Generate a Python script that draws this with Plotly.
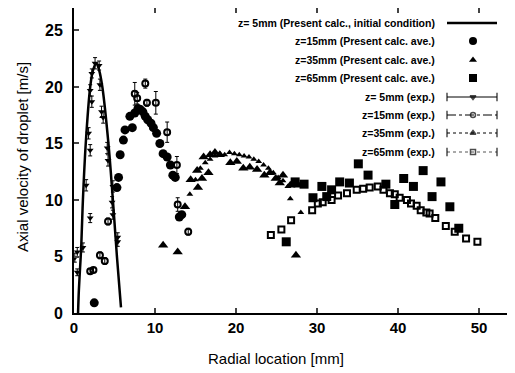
import plotly.graph_objects as go

# ---------------- data ----------------
calc5_x = [0.5, 0.6, 0.75, 0.9, 1.1, 1.45, 2.0, 2.35, 2.75, 3.1, 3.5, 4.25, 4.8, 5.3, 5.8]
calc5_y = [0, 2, 4, 6, 10, 15, 20, 21.5, 22.1, 21.5, 20, 15, 10, 5, 0.5]

calc15_x = [2.5, 5.3, 5.5, 5.7, 6.1, 6.3, 6.9, 7.2, 7.5, 7.9, 8.2, 8.5, 8.8, 9.1, 9.5, 9.8,
            10.2, 10.6, 11.0, 11.5, 11.9, 12.2, 12.5, 13.0, 13.3]
calc15_y = [0.9, 11.1, 12.0, 14.0, 15.3, 16.2, 17.4, 16.4, 17.7, 18.1, 18.0, 17.8, 17.4, 17.1,
            16.8, 16.4, 15.9, 15.0, 14.1, 13.8, 13.1, 12.2, 12.0, 8.5, 8.7]

calc35_x = [11.0, 12.8, 13.7, 14.4, 15.2, 15.3, 15.8, 16.0, 16.6, 16.8, 17.4, 18.0, 19.3, 20.1,
            20.9, 21.7, 22.6, 23.5, 24.2, 24.9, 25.4, 25.8, 26.7, 27.4, 27.7]
calc35_y = [6.0, 5.4, 9.4, 11.8, 12.6, 11.1, 11.9, 13.8, 12.4, 14.0, 14.2, 14.0, 13.3, 13.4,
            12.8, 12.9, 12.7, 12.2, 12.4, 11.9, 11.5, 12.2, 11.3, 5.1, 11.3]

calc65_x = [26.2, 27.3, 28.4, 29.5, 30.6, 31.2, 31.8, 32.8, 34.0, 35.1, 36.3, 38.5, 39.6, 40.7,
            41.9, 43.1, 44.2, 45.3, 46.4, 47.5]
calc65_y = [6.3, 11.6, 11.4, 10.2, 11.2, 10.3, 10.9, 11.6, 11.5, 13.2, 12.2, 11.4, 9.6, 11.9,
            11.2, 12.6, 10.3, 11.6, 9.4, 7.5]

exp5_x = [0.1, 0.4, 0.4, 1.1, 1.5, 1.8, 2.0, 2.0, 2.0, 2.2, 2.2, 2.6, 3.1, 3.2, 3.4, 3.6,
          4.1, 4.2, 4.7, 4.8, 4.8, 5.4, 5.4]
exp5_y = [4.9, 3.6, 5.4, 5.8, 11.3, 15.9, 19.7, 14.4, 8.4, 21.2, 18.7, 22.1, 21.9, 20.2, 17.8,
          17.3, 14.6, 13.5, 9.8, 11.2, 8.7, 6.7, 6.3]
exp5_err = [0.4, 0.3, 0.4, 0.4, 0.5, 0.5, 0.5, 0.5, 0.4, 0.4, 0.5, 0.5, 0.4, 0.5, 0.5, 0.5,
            0.5, 0.5, 0.5, 0.5, 0.4, 0.4, 0.4]

exp15_x = [2.0, 2.4, 3.2, 3.8, 4.2, 7.5, 7.8, 8.8, 9.0, 10.1, 11.5, 12.7, 12.8, 14.1]
exp15_y = [3.7, 3.8, 5.1, 4.6, 8.1, 19.4, 19.0, 20.3, 18.6, 18.6, 16.0, 13.1, 9.6, 7.2]
exp15_err = [0.2, 0.2, 0.3, 0.3, 0.3, 1.0, 0.5, 0.4, 0.3, 1.0, 0.9, 0.75, 0.6, 0.3]

exp35_x = [14.3, 15.0, 15.6, 16.2, 16.8, 17.4, 18.0, 18.6, 19.2, 19.8, 20.4, 21.0, 21.6, 22.2,
           22.8, 23.4, 24.0, 24.6, 25.2, 25.8, 26.4, 26.7, 28.0]
exp35_y = [10.5, 11.8, 12.8, 13.3, 13.6, 13.9, 14.1, 14.0, 14.2, 14.1, 14.0, 13.9, 13.8, 13.6,
           13.4, 13.1, 12.8, 12.4, 12.0, 11.7, 11.2, 10.1, 8.9]

exp65_x = [24.3, 25.6, 26.8, 29.4, 30.1, 30.7, 31.8, 32.6, 33.7, 34.9, 35.7, 36.5, 37.5, 38.2,
           39.0, 39.6, 40.2, 41.1, 41.6, 42.3, 42.8, 43.5, 43.9, 44.6, 45.9, 47.0, 48.4, 49.8]
exp65_y = [6.9, 7.4, 8.2, 9.1, 9.7, 9.8, 10.0, 10.4, 10.6, 10.9, 11.0, 11.1, 11.2, 10.9, 10.6,
           10.5, 10.2, 10.0, 9.7, 9.5, 9.1, 8.9, 8.8, 8.4, 7.7, 7.2, 6.6, 6.3]

legend_labels = [
    "z= 5mm (Present calc., initial condition)",
    "z=15mm (Present calc. ave.)",
    "z=35mm (Present calc. ave.)",
    "z=65mm (Present calc. ave.)",
    "z= 5mm (exp.)",
    "z=15mm (exp.)",
    "z=35mm (exp.)",
    "z=65mm (exp.)",
]

x_ticks = [0, 10, 20, 30, 40, 50]
y_ticks = [0, 5, 10, 15, 20, 25]
x_title = "Radial location [mm]"
y_title = "Axial velocity of droplet [m/s]"

# ---------------- figure ----------------
FONT = "Liberation Sans, Arial, sans-serif"
fig = go.Figure()

fig.add_trace(go.Scatter(x=calc5_x, y=calc5_y, mode="lines", line=dict(color="black", width=2.5),
                         line_shape="spline", showlegend=False))
fig.add_trace(go.Scatter(x=exp5_x, y=exp5_y, mode="markers",
                         marker=dict(symbol="triangle-down", size=6, color="black"),
                         error_y=dict(type="data", array=exp5_err, color="black", thickness=1, width=2),
                         showlegend=False))
fig.add_trace(go.Scatter(x=calc15_x, y=calc15_y, mode="markers",
                         marker=dict(symbol="circle", size=9, color="black"), showlegend=False))
fig.add_trace(go.Scatter(x=exp15_x, y=exp15_y, mode="markers",
                         marker=dict(symbol="circle-open", size=6, color="black", line=dict(width=2)),
                         error_y=dict(type="data", array=exp15_err, color="black", thickness=1, width=2),
                         showlegend=False))
fig.add_trace(go.Scatter(x=calc35_x, y=calc35_y, mode="markers",
                         marker=dict(symbol="triangle-up", size=9, color="black"), showlegend=False))
fig.add_trace(go.Scatter(x=exp35_x, y=exp35_y, mode="markers",
                         marker=dict(symbol="triangle-up", size=6, color="black"), showlegend=False))
fig.add_trace(go.Scatter(x=calc65_x, y=calc65_y, mode="markers",
                         marker=dict(symbol="square", size=9, color="black"), showlegend=False))
fig.add_trace(go.Scatter(x=exp65_x, y=exp65_y, mode="markers",
                         marker=dict(symbol="square-open", size=6, color="black", line=dict(width=2)),
                         showlegend=False))

# ---------------- manual legend (text right, sample to the right) ----------------
# page pixel coordinates (page has an 8px body margin)
L_PX, T_PX, W_PX, H_PX = 74, 8, 441, 305
def fx(px):
    return (px - L_PX) / W_PX
def fy(py):
    return (T_PX + H_PX - py) / H_PX

row_py = [23, 41, 60, 78, 97, 115, 133, 152]
x0, xm, x1 = fx(447), fx(473), fx(497)
samples = [
    dict(line=None, sym="circle", size=0),
    dict(line=None, sym="circle", size=8),
    dict(line=None, sym="triangle-up", size=7),
    dict(line=None, sym="square", size=8),
    dict(line="solid", sym="triangle-down", size=5, color="black"),
    dict(line="dashdot", sym="circle-open", size=5, color="black"),
    dict(line="dot", sym="triangle-up", size=5, color="black"),
    dict(line="dot", sym="square-open", size=5, color="#555555"),
]
for i, (lab, py) in enumerate(zip(legend_labels, row_py)):
    fig.add_annotation(x=fx(437), y=fy(py), xref="paper", yref="paper", text="<b>" + lab + "</b>",
                       showarrow=False, xanchor="right", yanchor="middle",
                       font=dict(family=FONT, size=10.5, color="black"))
    s = samples[i]
    yy = fy(py)
    if i == 0:
        fig.add_trace(go.Scatter(x=[x0, x1], y=[yy, yy], xaxis="x2", yaxis="y2", mode="lines",
                                 line=dict(color="black", width=2.5), showlegend=False))
    elif s["line"] is None:
        fig.add_trace(go.Scatter(x=[xm], y=[yy], xaxis="x2", yaxis="y2", mode="markers",
                                 marker=dict(symbol=s["sym"], size=s["size"], color="black"),
                                 showlegend=False))
    else:
        fig.add_trace(go.Scatter(x=[x0, xm, x1], y=[yy, yy, yy], xaxis="x2", yaxis="y2",
                                 mode="lines+markers",
                                 line=dict(color=s["color"], width=1, dash=s["line"]),
                                 marker=dict(symbol=["line-ns-open", s["sym"], "line-ns-open"],
                                             size=[6, s["size"], 6], color="black",
                                             line=dict(width=1.5, color="black")),
                                 showlegend=False))

# axis titles as annotations (reference's x title is not centred on the clipped plot)
fig.add_annotation(x=fx(276), y=fy(358), xref="paper", yref="paper", text=x_title,
                   showarrow=False, xanchor="center", yanchor="middle",
                   font=dict(family=FONT, size=15, color="black"))
fig.add_annotation(x=fx(22), y=fy(157), xref="paper", yref="paper", text=y_title,
                   showarrow=False, xanchor="center", yanchor="middle", textangle=-90,
                   font=dict(family=FONT, size=15, color="black"))

fig.update_layout(
    width=507, height=365,
    margin=dict(l=66, r=0, t=0, b=60),
    paper_bgcolor="white", plot_bgcolor="white",
    font=dict(family=FONT, color="black"),
    xaxis=dict(range=[0, 54.44], tickvals=x_ticks, ticks="inside", ticklen=5, tickwidth=1.5,
               showline=True, linewidth=2, linecolor="black", mirror="ticks", showgrid=False,
               zeroline=False, automargin=False, tickfont=dict(family=FONT, size=15, weight="bold")),
    yaxis=dict(range=[0, 26.99], tickvals=y_ticks, ticks="inside", ticklen=5, tickwidth=1.5,
               showline=True, linewidth=2, linecolor="black", mirror=False, showgrid=False,
               zeroline=False, automargin=False, ticklabelstandoff=6,
               tickfont=dict(family=FONT, size=16, weight="bold")),
    xaxis2=dict(overlaying="x", range=[0, 1], visible=False, fixedrange=True, automargin=False),
    yaxis2=dict(overlaying="y", range=[0, 1], visible=False, fixedrange=True, automargin=False),
)

fig.write_html("out.html")
